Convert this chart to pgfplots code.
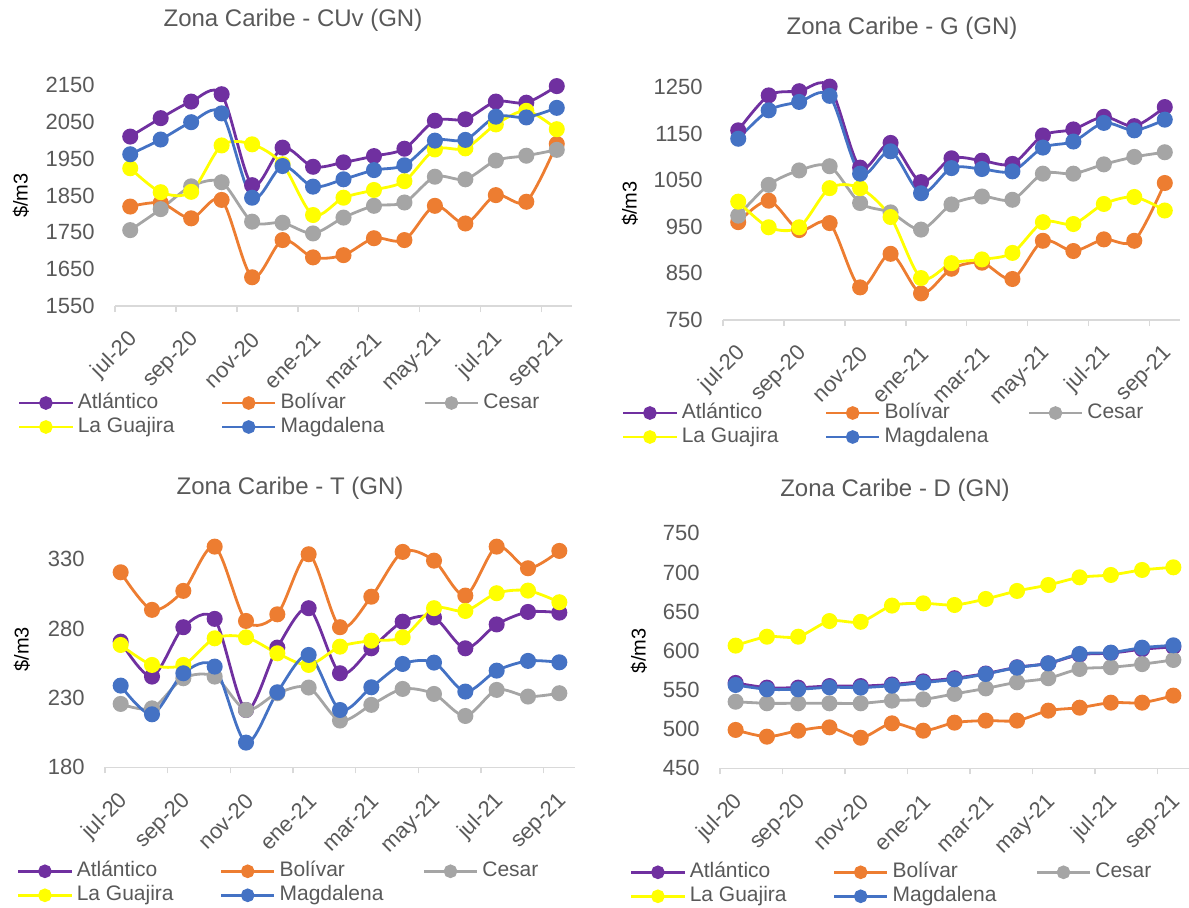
\documentclass[border=0pt]{standalone}
\usepackage{fontspec}
\setmainfont{Liberation Sans}
\usepackage{pgfplots}
\usepackage{pgfplotstable}
\pgfplotsset{compat=1.18}
\definecolor{cAtl}{HTML}{7030A0}
\definecolor{cBol}{HTML}{ED7D31}
\definecolor{cCes}{HTML}{A5A5A5}
\definecolor{cGua}{HTML}{FFFF00}
\definecolor{cMag}{HTML}{4472C4}
\definecolor{txt}{HTML}{595959}
\definecolor{axl}{HTML}{D9D9D9}

\pgfplotstableread{
x atl bol ces gua mag
0 2010 1820 1756 1924 1962
1 2060 1830 1813 1859 2002
2 2105 1788 1875 1860 2049
3 2125 1838 1886 1986 2073
4 1878 1628 1779 1989 1844
5 1980 1729 1776 1935 1930
6 1928 1682 1747 1797 1874
7 1940 1688 1790 1844 1894
8 1957 1734 1822 1865 1919
9 1977 1729 1831 1889 1932
10 2053 1822 1901 1975 1999
11 2057 1774 1894 1978 2001
12 2105 1851 1945 2043 2064
13 2102 1833 1958 2080 2062
14 2147 1990 1974 2030 2088
}\tCUv

\pgfplotstableread{
x atl bol ces gua mag
0 1157 960 974 1004 1139
1 1232 1006 1040 949 1200
2 1241 943 1071 949 1218
3 1251 958 1080 1033 1231
4 1077 820 1001 1033 1064
5 1130 892 981 971 1112
6 1046 807 944 840 1022
7 1097 860 998 872 1076
8 1092 873 1015 880 1074
9 1085 838 1008 894 1069
10 1146 920 1064 960 1120
11 1159 898 1064 956 1133
12 1186 923 1084 999 1173
13 1166 920 1100 1014 1157
14 1207 1044 1110 985 1180
}\tG

\pgfplotstableread{
x atl bol ces gua mag
0 270.6 320.6 225.7 268.2 238.9
1 245.4 293.5 222.5 253.8 218.2
2 281 307.2 244.2 253.8 247.8
3 287 339.1 245.4 273 252.6
4 221.3 285.5 221.3 273.7 197.8
5 266.3 290.3 233.4 262.2 234.1
6 294.7 333.6 237.5 253.8 261
7 247.8 281 213.7 267 221.3
8 265.8 303 225 271.3 237.7
9 285 335.3 236.5 273.7 254.5
10 288 329 232.9 294.7 255.5
11 265.8 303.8 217 292.7 234.6
12 283 339.1 235.8 305.5 249.7
13 292 323.5 231 307.4 256.7
14 291.5 336 233.4 299 255.7
}\tT

\pgfplotstableread{
x atl bol ces gua mag
0 559 499 535 606.6 556.4
1 553 490.4 533 618 550.9
2 553 498 533 618 550.9
3 555 502.3 533 638 553.4
4 555 489 533 637 553
5 557 507.4 536.4 657.7 555.5
6 561 498 538 660.6 559.4
7 565 508.3 545 658.5 563.6
8 571 510.9 552 666.2 570.4
9 579 510.9 559.8 676.4 578.5
10 584 523.6 565 684 584
11 595 527.4 576.8 693.8 596
12 597 533.8 579 696.8 597.7
13 602 533.8 583 703.2 604
14 605 542.8 588.3 706.6 607
}\tD

\newcommand{\LE}[1]{\makebox[71.5pt][l]{#1}}

\pgfplotsset{
  panel/.style={
    scale only axis,
    anchor=south west,
    xmin=-0.5, xmax=14.5,
    xtick={0,2,...,14},
    xticklabels={jul-20,sep-20,nov-20,ene-21,mar-21,may-21,jul-21,sep-21},
    minor xtick={-0.5,1.5,...,13.5},
    axis x line*=bottom,
    axis y line*=left,
    tick align=outside,
    major tick length=0pt,
    minor tick length=3pt,
    minor tick style={draw=axl, line width=0.75pt},
    ytick style={draw=none},
    y axis line style={draw=none},
    x axis line style={draw=axl, line width=0.75pt, -},
    tick label style={font=\fontsize{11}{13}\selectfont, text=txt},
    /pgf/number format/assume math mode=true,
    /pgf/number format/1000 sep={},
    xticklabel style={xshift=2pt, yshift=-15pt, rotate=45, anchor=east, inner sep=0pt},
    yticklabel style={anchor=east, inner sep=0pt, xshift=-10pt},
    clip=false,
    ylabel={\$/m3},
    ylabel style={font=\fontsize{13.5}{15}\selectfont, text=txt},
    legend columns=3,
    legend cell align=left,
    legend image code/.code={\draw[mark repeat=2,mark phase=2,##1,mark size=2.7pt] plot coordinates {(0pt,0pt) (13.25pt,0pt) (26.5pt,0pt)};},
    legend style={draw=none, fill=none, font=\fontsize{10.5}{12}\selectfont, text=txt,
      inner sep=0pt, outer sep=0pt, anchor=north west, column sep=0pt,
      /tikz/every odd column/.style={column sep=2pt},
      nodes={inner sep=0pt, text height=8.5pt, text depth=3.5pt}},
    every axis plot/.append style={line width=1.4pt, mark=*, mark size=3.3pt, smooth, tension=0.5},
  },
  ylab/.style={every axis y label/.style={at={(axis description cs:0,0.5)}, xshift=#1, rotate=90, anchor=center}},
  leg/.style 2 args={legend style={at={(axis description cs:0,0)}, xshift=#1, yshift=#2}},
}

\newcommand{\series}[1]{%
  \addplot[cAtl] table[x=x,y=atl]{#1};
  \addplot[cBol] table[x=x,y=bol]{#1};
  \addplot[cCes] table[x=x,y=ces]{#1};
  \addplot[cGua] table[x=x,y=gua]{#1};
  \addplot[cMag] table[x=x,y=mag]{#1};
  \legend{\LE{Atlántico},\LE{Bolívar},\LE{Cesar},\LE{La Guajira},\LE{Magdalena}}
}

\begin{document}
\begin{tikzpicture}
\path[use as bounding box] (0,0) rectangle (594.5pt,453.5pt);

% Panel 1: CUv
\begin{axis}[panel, at={(57.5pt,300.5pt)}, width=228.5pt, height=110.5pt,
  ymin=1550, ymax=2150, ytick={1550,1650,...,2150},
  ylab=-47pt, leg={-48.5pt}{-42.5pt}]
\series{\tCUv}
\end{axis}

% Panel 2: G
\begin{axis}[panel, at={(361.5pt,293.5pt)}, width=228.5pt, height=116.5pt,
  ymin=750, ymax=1250, ytick={750,850,...,1250},
  ylab=-46.5pt, leg={-50.5pt}{-40.5pt}]
\series{\tG}
\end{axis}

% Panel 3: T
\begin{axis}[panel, at={(52.5pt,69.85pt)}, width=235pt, height=117.9pt,
  ymin=180, ymax=350, ytick={180,230,280,330},
  ylab=-41.5pt, leg={-44pt}{-46pt}]
\series{\tT}
\end{axis}

% Panel 4: D
\begin{axis}[panel, at={(360pt,69.35pt)}, width=234.5pt, height=117.5pt,
  ymin=450, ymax=750, ytick={450,500,...,750},
  ylab=-40.5pt, leg={-45pt}{-46pt}]
\series{\tD}
\end{axis}

\begin{scope}[every node/.style={font=\fontsize{12}{14}\selectfont, text=txt}]
\node at (146.5pt,443.5pt) {Zona Caribe - CUv (GN)};
\node at (451pt,439.5pt) {Zona Caribe - G (GN)};
\node at (145pt,209.5pt) {Zona Caribe - T (GN)};
\node at (447.5pt,208.5pt) {Zona Caribe - D (GN)};
\end{scope}
\end{tikzpicture}
\end{document}
